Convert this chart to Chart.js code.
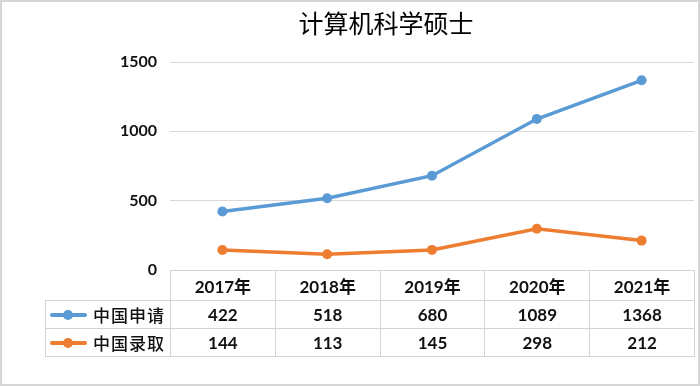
<!DOCTYPE html>
<html>
<head>
<meta charset="utf-8">
<script src="https://cdn.jsdelivr.net/npm/chart.js@4/dist/chart.umd.min.js"></script>
<style>
  html, body { margin: 0; padding: 0; background: #fff; }
  #wrap { position: relative; width: 700px; height: 386px; overflow: hidden; background: #fff; }
  #frame { position: absolute; left: 0; top: 0; width: 700px; height: 386px; box-sizing: border-box; border: 2px solid #d6d6d6; pointer-events: none; }
  #title { position: absolute; left: 0; top: 5px; width: 772px; text-align: center; font-family: "Noto Sans CJK SC", sans-serif; font-size: 25px; font-weight: 400; color: #000; line-height: 34px; }
  canvas { position: absolute; left: 0; top: 0; }
  #tbl { position: absolute; border-collapse: collapse; table-layout: fixed; font-family: Lato, "Noto Sans CJK SC", sans-serif; font-weight: 700; font-size: 17px; color: #111; }
  #tbl td { border: 1px solid #d4d4d4; text-align: center; padding: 0; overflow: hidden; white-space: nowrap; }
  #tbl td.blank { border: none; }
  #tbl td.leg { text-align: left; font-family: "Noto Sans CJK SC", sans-serif; font-weight: 500; font-size: 17px; letter-spacing: 1px; }
  .mk { display: inline-block; position: relative; width: 37px; height: 12px; vertical-align: middle; margin: 0 6px 0 4px; top: -2px; }
  .mk .ln { position: absolute; left: 0; top: 4px; width: 37px; height: 4px; border-radius: 2px; }
  .mk .dt { position: absolute; left: 13px; top: 1px; width: 10px; height: 10px; border-radius: 50%; }
</style>
</head>
<body>
<div id="wrap">
  <canvas id="c" width="700" height="386"></canvas>
  <div id="title">计算机科学硕士</div>
  <table id="tbl"></table>
  <div id="frame"></div>
</div>
<script>
const categories = ["2017年", "2018年", "2019年", "2020年", "2021年"];
const seriesNames = ["中国申请", "中国录取"];
const applications = [422, 518, 680, 1089, 1368];
const admissions = [144, 113, 145, 298, 212];
const yTicks = [0, 500, 1000, 1500];
const seriesColors = ["#5B9BD5", "#ED7D31"];

const seriesValues = [applications, admissions];

function buildTable(chart) {
  const tbl = document.getElementById('tbl');
  const area = chart.chartArea;
  const legW = 125;
  const colW = (area.right - area.left) / categories.length;
  tbl.style.left = (area.left - legW) + 'px';
  tbl.style.top = Math.round(area.bottom) + 'px';
  let html = '<colgroup><col style="width:' + legW + 'px">';
  categories.forEach(() => { html += '<col style="width:' + colW + 'px">'; });
  html += '</colgroup>';
  html += '<tr style="height:30px"><td class="blank"></td>';
  categories.forEach(c => { html += '<td>' + c + '</td>'; });
  html += '</tr>';
  seriesNames.forEach((name, si) => {
    html += '<tr style="height:28px"><td class="leg"><span class="mk"><span class="ln" style="background:' + seriesColors[si] + '"></span><span class="dt" style="background:' + seriesColors[si] + '"></span></span>' + name + '</td>';
    seriesValues[si].forEach(v => { html += '<td>' + v + '</td>'; });
    html += '</tr>';
  });
  tbl.innerHTML = html;
  tbl.style.width = (legW + colW * categories.length) + 'px';
}

let built = false;
const tablePlugin = {
  id: 'tablePlugin',
  afterRender(chart) {
    if (!built) { built = true; buildTable(chart); }
  }
};

new Chart(document.getElementById('c'), {
  type: 'line',
  data: {
    labels: categories,
    datasets: seriesNames.map((name, i) => ({
      label: name,
      data: seriesValues[i],
      borderColor: seriesColors[i],
      backgroundColor: seriesColors[i],
      borderWidth: 3.5,
      pointRadius: 5,
      pointHoverRadius: 5,
      pointBorderWidth: 0,
      tension: 0
    }))
  },
  options: {
    responsive: false,
    animation: false,
    devicePixelRatio: 1,
    layout: { padding: { left: 0, right: 6, top: 62, bottom: 116 } },
    plugins: { legend: { display: false }, title: { display: false }, tooltip: { enabled: false } },
    scales: {
      x: {
        type: 'category',
        offset: true,
        display: false
      },
      y: {
        min: 0,
        max: 1500,
        afterBuildTicks(scale) { scale.ticks = yTicks.map(v => ({ value: v })); },
        afterFit(scale) { scale.width = 170; },
        border: { display: false },
        grid: { color: '#d9d9d9', lineWidth: 1, drawTicks: false },
        ticks: {
          padding: 13,
          color: '#111',
          font: { family: 'Lato', size: 16, weight: 'bold' },
          callback: (v) => String(v)
        }
      }
    }
  },
  plugins: [tablePlugin]
});
</script>
</body>
</html>
